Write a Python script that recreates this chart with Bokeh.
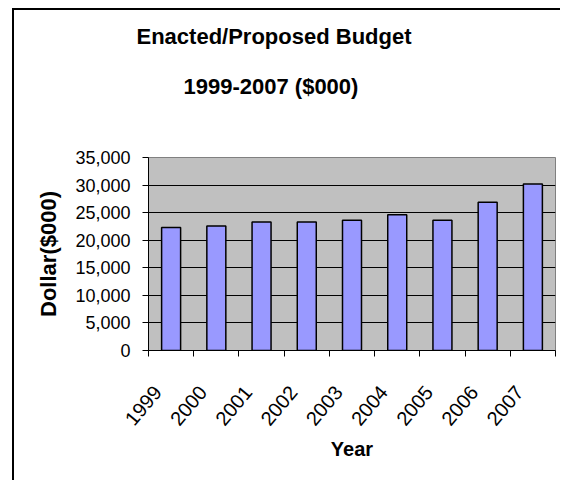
import math
from bokeh.plotting import figure
from bokeh.models import Range1d, FixedTicker, NumeralTickFormatter, Title
from bokeh.embed import file_html
from bokeh.resources import INLINE

# ---- data ----
years = ["1999", "2000", "2001", "2002", "2003", "2004", "2005", "2006", "2007"]
budget = [22300, 22600, 23300, 23300, 23600, 24600, 23600, 26900, 30200]
y_ticks = [0, 5000, 10000, 15000, 20000, 25000, 30000, 35000]
title_line1 = "Enacted/Proposed Budget"
title_line2 = "1999-2007 ($000)"
x_label = "Year"
y_label = "Dollar($000)"

FONT = "Liberation Sans"

n = len(years)
x_pos = [i + 0.5 for i in range(n)]
label_pos = [i + 0.2 for i in range(n)]   # rotated labels end left of bar centre
boundaries = list(range(n + 1))

p = figure(
    width=548, height=472,
    x_range=Range1d(0, n), y_range=Range1d(0, 35000),
    output_backend="svg", toolbar_location=None, tools="",
    min_border_left=136, min_border_right=5,
    min_border_top=149, min_border_bottom=130,
)
p.toolbar.logo = None
p.styles = {"margin-left": "12px", "margin-top": "8px",
            "box-shadow": "inset 2px 2px 0 0 black"}

p.background_fill_color = "#C0C0C0"
p.border_fill_color = None
p.outline_line_color = "#808080"
p.outline_line_width = 1

p.vbar(x=x_pos, top=budget, width=0.42, bottom=0,
       fill_color="#9999FF", line_color="black", line_width=1.5)

# grid (top edge of the plot area stays grey)
p.xgrid.visible = False
p.ygrid.ticker = FixedTicker(ticks=y_ticks[:-1])
p.ygrid.grid_line_color = "black"
p.ygrid.grid_line_width = 1

# y axis
ya = p.yaxis[0]
ya.ticker = FixedTicker(ticks=y_ticks)
ya.formatter = NumeralTickFormatter(format="0,0")
ya.major_label_text_font = FONT
ya.major_label_text_font_size = "18px"
ya.major_label_text_color = "black"
ya.major_tick_out = 6
ya.major_tick_in = 0
ya.minor_tick_out = 0
ya.minor_tick_in = 0
ya.major_label_standoff = 12
ya.axis_line_color = "black"
ya.major_tick_line_color = "black"
ya.axis_label = y_label
ya.axis_label_text_font = FONT
ya.axis_label_text_font_size = "22px"
ya.axis_label_text_font_style = "bold"
ya.axis_label_text_color = "black"
ya.axis_label_standoff = 11

# x axis
xa = p.xaxis[0]
xa.ticker = FixedTicker(ticks=label_pos, minor_ticks=boundaries)
xa.major_label_overrides = {x: y for x, y in zip(label_pos, years)}
xa.major_tick_out = 0
xa.major_tick_in = 0
xa.major_tick_line_color = None
xa.minor_tick_out = 6
xa.minor_tick_in = 0
xa.minor_tick_line_color = "black"
xa.axis_line_color = "black"
xa.major_label_orientation = math.radians(50)
xa.major_label_text_font = FONT
xa.major_label_text_font_size = "20px"
xa.major_label_text_color = "black"
xa.major_label_standoff = 32
xa.axis_label = x_label
xa.axis_label_text_font = FONT
xa.axis_label_text_font_size = "20px"
xa.axis_label_text_font_style = "bold"
xa.axis_label_text_color = "black"
xa.axis_label_standoff = 3

# titles (stacked from the frame outward; main title is outermost)
spacer = Title(text=" ", text_font_size="10px", standoff=36)
t2 = Title(text=title_line2, align="left", offset=35, standoff=20,
           text_font=FONT, text_font_size="22px", text_font_style="bold",
           text_color="black")
p.add_layout(spacer, "above")
p.add_layout(t2, "above")
p.title.text = title_line1
p.title.align = "left"
p.title.offset = -12
p.title.standoff = 26
p.title.text_font = FONT
p.title.text_font_size = "22px"
p.title.text_font_style = "bold"
p.title.text_color = "black"

open("out.html", "w").write(file_html(p, INLINE))
